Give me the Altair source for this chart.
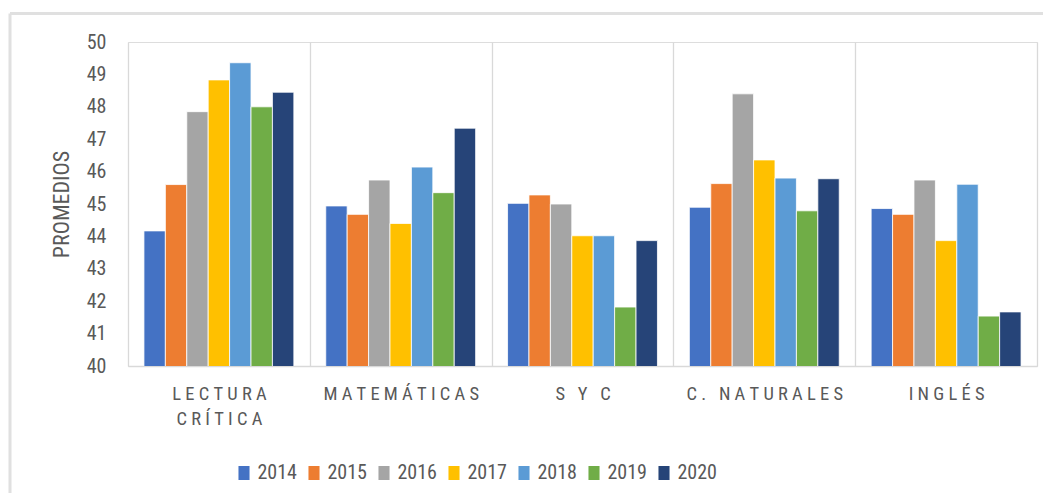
import altair as alt
import pandas as pd

categories = ["LECTURA CRÍTICA", "MATEMÁTICAS", "S Y C", "C. NATURALES", "INGLÉS"]
years = ["2014", "2015", "2016", "2017", "2018", "2019", "2020"]
v2014 = [44.17, 44.94, 45.02, 44.90, 44.86]
v2015 = [45.60, 44.68, 45.28, 45.63, 44.68]
v2016 = [47.85, 45.74, 45.00, 48.40, 45.74]
v2017 = [48.83, 44.40, 44.02, 46.36, 43.87]
v2018 = [49.36, 46.14, 44.02, 45.80, 45.61]
v2019 = [48.00, 45.35, 41.82, 44.79, 41.54]
v2020 = [48.45, 47.34, 43.87, 45.78, 41.67]
series = [v2014, v2015, v2016, v2017, v2018, v2019, v2020]
colors = ["#4472C4", "#ED7D31", "#A5A5A5", "#FFC000", "#5B9BD5", "#70AD47", "#264478"]
y_ticks = list(range(40, 51))

rows = []
for yr, vals in zip(years, series):
    for cat, v in zip(categories, vals):
        rows.append({"categoria": cat, "anio": yr, "promedio": v})
df = pd.DataFrame(rows)

FONT = "Liberation Sans Narrow, Roboto Condensed, Arial Narrow, Liberation Sans, sans-serif"
GRAY = "#595959"
GRID = "#d9d9d9"

def spaced(line):
    return "\u00a0".join(line.replace(" ", "\u00a0"))

label_lines = {
    "LECTURA CRÍTICA": ["LECTURA", "CRÍTICA"],
    "MATEMÁTICAS": ["MATEMÁTICAS"],
    "S Y C": ["S Y C"],
    "C. NATURALES": ["C. NATURALES"],
    "INGLÉS": ["INGLÉS"],
}
expr = "datum.label"
for cat in reversed(categories):
    arr = "[" + ",".join("'" + spaced(l) + "'" for l in label_lines[cat]) + "]"
    expr = f"datum.label == '{cat}' ? {arr} : ({expr})"

W, H = 909, 324

bars = alt.Chart(df).mark_bar(stroke="white", strokeWidth=0.8, clip=True).encode(
    x=alt.X("categoria:N", sort=categories,
            scale=alt.Scale(paddingInner=0, paddingOuter=0),
            axis=alt.Axis(title=None, labelAngle=0, tickBand="extent", grid=True,
                          gridColor=GRID, gridWidth=1.3, ticks=False,
                          domainColor=GRID, domainWidth=1.3,
                          labelFont=FONT, labelFontSize=18.5, labelColor=GRAY,
                          labelPadding=18, labelLineHeight=25, labelExpr=expr)),
    xOffset=alt.XOffset("anio:N", sort=years,
                        scale=alt.Scale(paddingInner=0, paddingOuter=0.745)),
    y=alt.Y("promedio:Q",
            scale=alt.Scale(domain=[40, 50], nice=False, zero=False),
            axis=alt.Axis(title="PROMEDIOS", values=y_ticks, grid=False, ticks=False,
                          domain=False, labelFont=FONT, labelFontSize=20, labelColor=GRAY,
                          labelPadding=22, titleFont=FONT, titleFontSize=22,
                          titleFontWeight="normal", titleColor=GRAY, titlePadding=13)),
    color=alt.Color("anio:N", sort=years,
                    scale=alt.Scale(domain=years, range=colors),
                    legend=alt.Legend(title=None, orient="none", direction="horizontal",
                                      legendX=106, legendY=421, padding=0,
                                      symbolType="M-0.79,-1H0.79V1H-0.79Z", symbolSize=196,
                                      symbolStrokeWidth=0, labelFont=FONT, labelFontSize=20,
                                      labelColor=GRAY, labelOffset=3.5, columnPadding=7)),
)

border_top = alt.Chart(pd.DataFrame({"a": [0]})).mark_rule(color="#e0e0e0", strokeWidth=3).encode(
    x=alt.value(-118), x2=alt.value(W + 10), y=alt.value(-28.5)
)
border_left = alt.Chart(pd.DataFrame({"a": [0]})).mark_rule(color="#e0e0e0", strokeWidth=3).encode(
    x=alt.value(-118), y=alt.value(-28.5), y2=alt.value(H + 127)
)

chart = alt.layer(bars, border_top, border_left).properties(
    width=W, height=H,
    autosize=alt.AutoSizeParams(type="none"),
    padding={"left": 120, "top": 34, "right": 6, "bottom": 127},
).configure_view(stroke=None).configure(background="white")

chart.save("out.html", embed_options={"renderer": "svg", "actions": False})
